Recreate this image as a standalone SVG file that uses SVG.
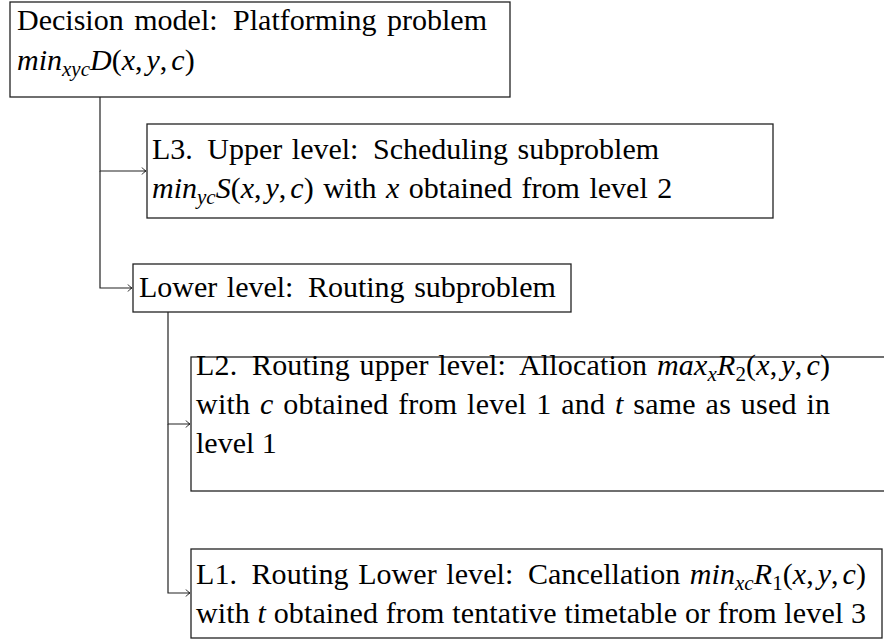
<svg xmlns="http://www.w3.org/2000/svg" width="884" height="644" viewBox="0 0 884 644">
<style>
.box{fill:#fff;stroke:#222;stroke-width:1.3}
.t{font-family:"Liberation Serif","Times New Roman",serif;font-size:30px;fill:#000}
.i{font-style:italic}
.s{font-size:21px}
.c{fill:none;stroke:#222;stroke-width:1.2}
</style>
<defs>
<marker id="ah" markerWidth="10" markerHeight="10" refX="8" refY="5" orient="auto" markerUnits="userSpaceOnUse">
<path d="M4,1.5 Q6,4.2 8,5 Q6,5.8 4,8.5" fill="none" stroke="#222" stroke-width="1"/>
</marker>
</defs>
<rect width="884" height="644" fill="#fff"/>
<g id="connectors">
<path class="c" d="M100,97 V171 H146" marker-end="url(#ah)"/>
<path class="c" d="M100,171 V288 H132" marker-end="url(#ah)"/>
<path class="c" d="M168,312 V424 H190" marker-end="url(#ah)"/>
<path class="c" d="M168,424 V593 H190" marker-end="url(#ah)"/>
</g>
<g id="decision">
<rect class="box" x="10" y="2" width="500" height="95"/>
<text class="t" x="17" y="30" word-spacing="3" textLength="470">Decision model:<tspan dx="5"> Platforming</tspan> problem</text>
<text class="t" x="17" y="70"><tspan class="i">min</tspan><tspan class="i s" dy="6">xyc</tspan><tspan class="i" dy="-6">D</tspan>(<tspan class="i">x</tspan>,<tspan class="i" dx="4">y</tspan>,<tspan class="i" dx="4">c</tspan>)</text>
</g>
<g id="l3">
<rect class="box" x="147" y="124" width="626" height="94"/>
<text class="t" x="152" y="159" word-spacing="2">L3.<tspan dx="5"> Upper</tspan> level:<tspan dx="5"> Scheduling</tspan> subproblem</text>
<text class="t" x="152" y="198" word-spacing="2"><tspan class="i">min</tspan><tspan class="i s" dy="6">yc</tspan><tspan class="i" dy="-6">S</tspan>(<tspan class="i">x</tspan>,<tspan class="i" dx="4">y</tspan>,<tspan class="i" dx="4">c</tspan>) with <tspan class="i">x</tspan> obtained from level 2</text>
</g>
<g id="lower">
<rect class="box" x="133" y="264" width="438" height="48"/>
<text class="t" x="139" y="297" word-spacing="2">Lower level:<tspan dx="5"> Routing</tspan> subproblem</text>
</g>
<g id="l2">
<rect class="box" x="191" y="357" width="700" height="134"/>
<text class="t" x="196" y="375" word-spacing="2" textLength="634">L2.<tspan dx="5"> Routing</tspan> upper level:<tspan dx="5"> Allocation</tspan> <tspan class="i">max</tspan><tspan class="i s" dy="6">x</tspan><tspan class="i" dy="-6">R</tspan><tspan class="s" dy="6">2</tspan><tspan dy="-6">(</tspan><tspan class="i">x</tspan>,<tspan class="i" dx="4">y</tspan>,<tspan class="i" dx="4">c</tspan>)</text>
<text class="t" x="196" y="414" word-spacing="2" textLength="634">with <tspan class="i">c</tspan> obtained from level 1 and <tspan class="i">t</tspan> same as used in</text>
<text class="t" x="196" y="453">level 1</text>
</g>
<g id="l1">
<rect class="box" x="191" y="549" width="691" height="89"/>
<text class="t" x="196" y="584" word-spacing="2" textLength="670">L1.<tspan dx="5"> Routing</tspan> Lower level:<tspan dx="5"> Cancellation</tspan> <tspan class="i">min</tspan><tspan class="i s" dy="6">xc</tspan><tspan class="i" dy="-6">R</tspan><tspan class="s" dy="6">1</tspan><tspan dy="-6">(</tspan><tspan class="i">x</tspan>,<tspan class="i" dx="4">y</tspan>,<tspan class="i" dx="4">c</tspan>)</text>
<text class="t" x="196" y="623" textLength="670">with <tspan class="i">t</tspan> obtained from tentative timetable or from level 3</text>
</g>
</svg>
